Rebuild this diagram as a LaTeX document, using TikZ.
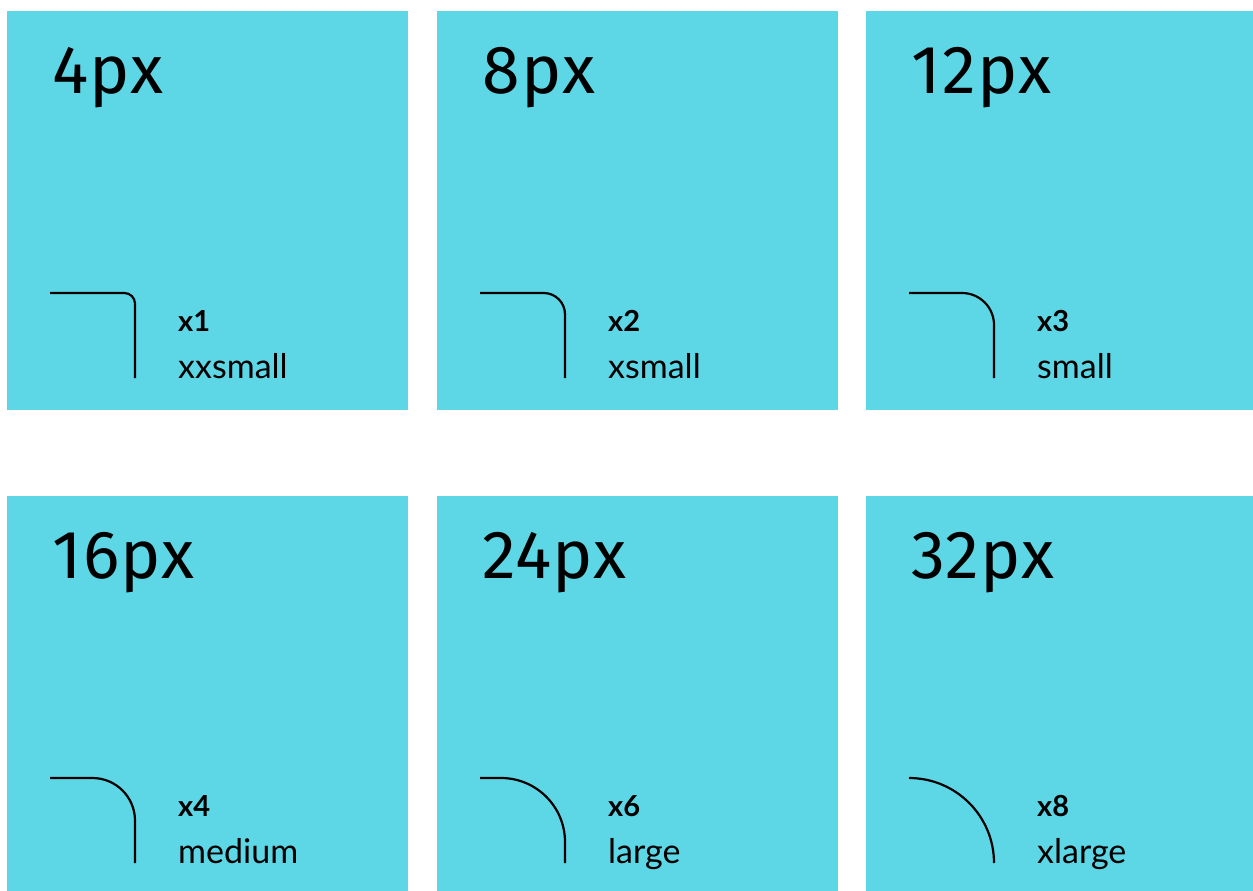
\documentclass[tikz,border=0pt]{standalone}
\usepackage{fontspec}
\setmainfont{Lato}
\newfontfamily\bigfont[LetterSpace=2]{Fira Sans}
\definecolor{tile}{HTML}{5DD7E6}
\begin{document}
\begin{tikzpicture}[x=1pt,y=-1pt,
  tilebox/.style={fill=tile,draw=none,inner sep=0pt,anchor=north west},
  bigtxt/.style={anchor=base west,inner sep=0pt,font=\bigfont\fontsize{68}{68}\selectfont},
  boldtxt/.style={anchor=base west,inner sep=0pt,font=\fontsize{29}{29}\selectfont\bfseries},
  lbltxt/.style={anchor=base west,inner sep=0pt,font=\fontsize{34}{34}\selectfont},
  cornerline/.style={draw=black,line width=2.2pt}]
\useasboundingbox (0,0) rectangle (1253,891);
\foreach \i/\xo/\yo/\w/\h/\r/\big/\mul/\nm in {
  1/7/11/401/399/10.6/4px/x1/xxsmall,
  2/437/11/401/399/21.3/8px/x2/xsmall,
  3/866/11/387/399/32/12px/x3/small,
  4/7/496/401/395/42.6/16px/x4/medium,
  5/437/496/401/395/64/24px/x6/large,
  6/866/496/387/395/85/32px/x8/xlarge}{
  \node[tilebox,minimum width=\w pt,minimum height=\h pt] (box\i) at (\xo,\yo) {};
  \node[bigtxt] (size\i) at (\xo+45,\yo+82) {\big};
  \node[boldtxt] (mul\i) at (\xo+171,\yo+320) {\mul};
  \node[lbltxt] (name\i) at (\xo+171,\yo+367.5) {\nm};
  \coordinate (s\i) at (\xo+43,\yo+282);
  \coordinate (c\i) at (\xo+128,\yo+282);
  \coordinate (e\i) at (\xo+128,\yo+367);
  \draw[cornerline,rounded corners=\r pt] (s\i) -- (c\i) -- (e\i);
}
\end{tikzpicture}
\end{document}
